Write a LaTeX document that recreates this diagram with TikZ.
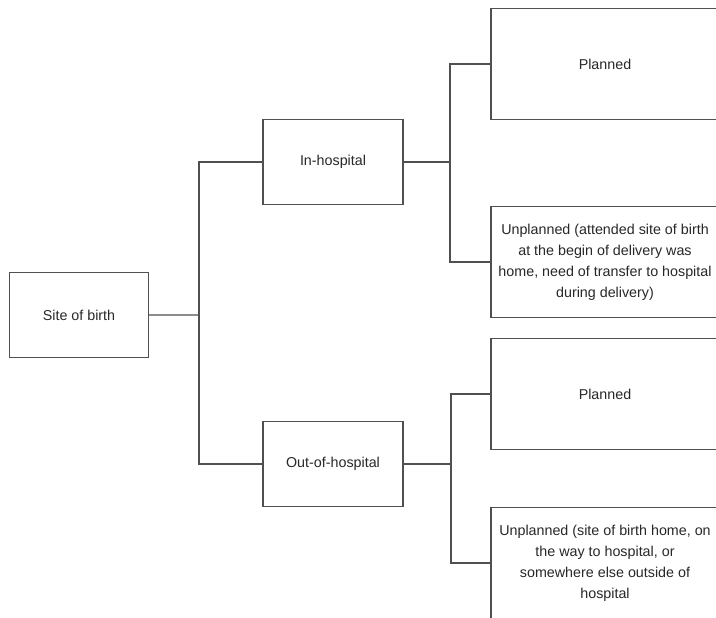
\documentclass[tikz,border=0pt]{standalone}
\usepackage{fontspec}
\setmainfont{Liberation Sans}
\usetikzlibrary{positioning}
\definecolor{boxline}{RGB}{80,80,80}
\definecolor{stemline}{RGB}{140,140,140}
\definecolor{boxtext}{RGB}{40,40,40}

\begin{document}
\begin{tikzpicture}[x=1bp,y=-1bp,font=\fontsize{14.3bp}{21bp}\selectfont,text=boxtext,
  box/.style={draw=boxline,line width=1.2bp,fill=white,align=center,inner sep=0pt,minimum width=#1},
  box/.default=140bp,
  small/.style={box,minimum height=85bp},
  big/.style={box=228bp,minimum height=111bp},
  link/.style={draw=boxline,line width=1.2bp}]
\useasboundingbox (0,0) rectangle (716,618);
\clip (0,0) rectangle (716,618);
\node[small,minimum width=139bp] (site) at (79,315) {Site of birth};
\node[small] (inhosp) at (333,162) {In-hospital};
\node[small] (outhosp) at (333,464) {Out-of-hospital};
\node[big] (planin) at (605,64) {Planned};
\node[big] (unplanin) at (605,262) {Unplanned (attended site of birth\\at the begin of delivery was\\home, need of transfer to hospital\\during delivery)};
\node[big] (planout) at (605,394) {Planned};
\node[big] (unplanout) at (605,563) {Unplanned (site of birth home, on\\the way to hospital, or\\somewhere else outside of\\hospital};
\coordinate (jsite) at (199,315);
\coordinate (jin) at (450,162);
\coordinate (jout) at (451,464);
\draw[draw=stemline,line width=1.2bp] (site.east)--(jsite);
\draw[link] (inhosp.west)-|(jsite)|-(outhosp.west);
\draw[link] (inhosp.east)--(jin);
\draw[link] (planin.west)-|(jin)|-(unplanin.west);
\draw[link] (outhosp.east)--(jout);
\draw[link] (planout.west)-|(jout)|-(unplanout.west);
\end{tikzpicture}
\end{document}
